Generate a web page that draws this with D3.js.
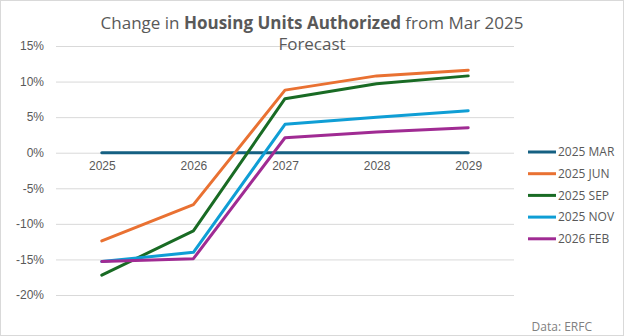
<!DOCTYPE html>
<html>
<head>
<meta charset="utf-8">
<script src="https://cdn.jsdelivr.net/npm/d3@7"></script>
<style>
  html, body { margin: 0; padding: 0; background: #fff; }
  svg { display: block; font-family: "Open Sans", "Liberation Sans", sans-serif; }
</style>
</head>
<body>
<div id="chart"></div>
<script>
// Forecast vintages vs. the Mar 2025 forecast (percent change)
const years = ['2025', '2026', '2027', '2028', '2029'];
const seriesNames = ['2025 MAR', '2025 JUN', '2025 SEP', '2025 NOV', '2026 FEB'];
const mar25 = [0, 0, 0, 0, 0];
const jun25 = [-12.4, -7.3, 8.8, 10.8, 11.6];
const sep25 = [-17.2, -11.0, 7.6, 9.7, 10.8];
const nov25 = [-15.3, -14.0, 4.0, 5.0, 5.9];
const feb26 = [-15.3, -14.9, 2.1, 2.9, 3.5];
const yTicks = [15, 10, 5, 0, -5, -10, -15, -20];
const colors = ['#156082', '#E97132', '#196B24', '#0F9ED5', '#A02B93'];

const series = [mar25, jun25, sep25, nov25, feb26].map((vals, i) => ({
    name: seriesNames[i],
    color: colors[i],
    values: vals.map((v, j) => ({ year: years[j], value: v }))
}));

const width = 624, height = 336;
const plot = { left: 56, right: 514, top: 46, bottom: 295 };

const svg = d3.select('#chart').append('svg')
    .attr('width', width)
    .attr('height', height);

// outer border
svg.append('rect')
    .attr('x', 0.5).attr('y', 0.5)
    .attr('width', width - 1).attr('height', height - 1)
    .attr('fill', '#fff')
    .attr('stroke', '#d9d9d9');

const x = d3.scalePoint()
    .domain(years)
    .range([plot.left, plot.right])
    .padding(0.5);

const y = d3.scaleLinear()
    .domain([-20, 15])
    .range([plot.bottom, plot.top]);

// gridlines + y labels
const yAxis = d3.axisLeft(y)
    .tickValues(yTicks)
    .tickSize(-(plot.right - plot.left))
    .tickPadding(12)
    .tickFormat(d => d + '%');

svg.append('g')
    .attr('transform', `translate(${plot.left},0)`)
    .call(yAxis)
    .call(g => g.select('.domain').remove())
    .call(g => g.selectAll('.tick line').attr('stroke', '#d9d9d9').attr('stroke-width', 1))
    .call(g => g.selectAll('.tick text')
        .attr('fill', '#595959')
        .style('font-size', '12px'));

// x labels sit just under the zero line
const xAxis = d3.axisBottom(x).tickSize(0).tickPadding(9);
svg.append('g')
    .attr('transform', `translate(0,${y(0)})`)
    .call(xAxis)
    .call(g => g.select('.domain').remove())
    .call(g => g.selectAll('.tick text')
        .attr('fill', '#595959')
        .style('font-size', '12px'));

// lines
const line = d3.line()
    .x(d => x(d.year))
    .y(d => y(d.value));

svg.append('g').selectAll('path')
    .data(series)
    .enter().append('path')
    .attr('d', d => line(d.values))
    .attr('fill', 'none')
    .attr('stroke', d => d.color)
    .attr('stroke-width', 3)
    .attr('stroke-linejoin', 'round')
    .attr('stroke-linecap', 'round');

// title
const title = svg.append('text')
    .attr('x', 312)
    .attr('y', 29)
    .attr('text-anchor', 'middle')
    .attr('fill', '#595959')
    .style('font-size', '17px');
title.append('tspan').text('Change in ');
title.append('tspan').attr('font-weight', 700).text('Housing Units Authorized');
title.append('tspan').text(' from Mar 2025');

svg.append('text')
    .attr('x', 312)
    .attr('y', 50)
    .attr('text-anchor', 'middle')
    .attr('fill', '#595959')
    .style('font-size', '17px')
    .text('Forecast');

// legend
const legend = svg.append('g')
    .selectAll('g')
    .data(series)
    .enter().append('g')
    .attr('transform', (d, i) => `translate(528,${152 + i * 21.7})`);

legend.append('line')
    .attr('x1', 0).attr('x2', 28)
    .attr('stroke', d => d.color)
    .attr('stroke-width', 3);

legend.append('text')
    .attr('x', 30)
    .attr('dy', '0.35em')
    .attr('fill', '#595959')
    .style('font-size', '12px')
    .text(d => d.name);

// source note
svg.append('text')
    .attr('x', 592)
    .attr('y', 331)
    .attr('text-anchor', 'end')
    .attr('fill', '#808080')
    .style('font-size', '12px')
    .text('Data: ERFC');
</script>
</body>
</html>
